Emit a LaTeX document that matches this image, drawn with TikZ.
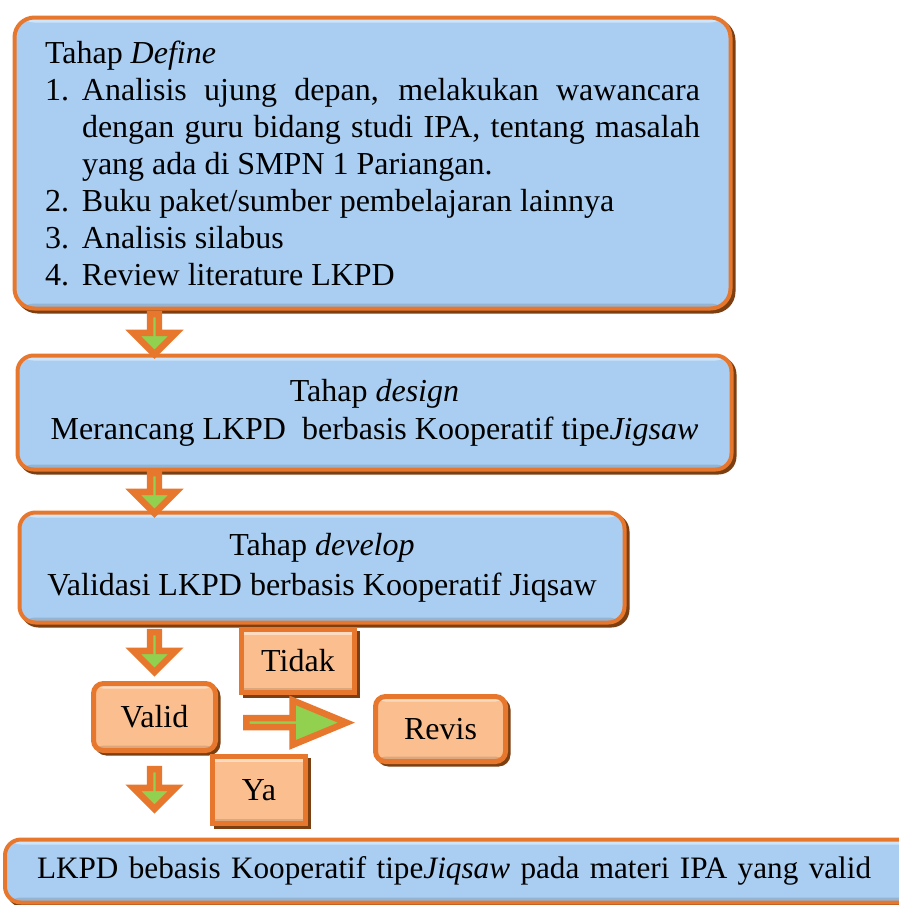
\documentclass[tikz,border=0pt]{standalone}
\usepackage{fontspec}
\setmainfont{Liberation Serif}
\usepackage{xcolor}
\usepackage{tikz}
\usetikzlibrary{calc,shapes.arrows,shadows}
\definecolor{boxblue}{HTML}{A9CEF2}
\definecolor{edgeorange}{HTML}{E8772E}
\definecolor{edgebrown}{HTML}{7B3F12}
\definecolor{boxpeach}{HTML}{FBBF8F}
\definecolor{arrowgreen}{HTML}{92D050}
\newcommand{\stepitem}[2]{\par\hangindent=18.5pt\hangafter=1\noindent\makebox[18.5pt][l]{#1}#2}

\begin{document}
\begin{tikzpicture}[
  x=0.5pt, y=-0.5pt,
  every node/.style={font=\fontsize{16}{18.5}\selectfont},
  bevel/.style={draw=edgeorange, line width=2pt,
    general shadow={fill=edgebrown, draw=edgebrown, line width=2pt,
      shadow xshift=1.5pt, shadow yshift=-1.5pt},
    path picture={
      \fill[white, opacity=0.45] (path picture bounding box.north west)
        rectangle ([yshift=-2.5pt]path picture bounding box.north east);
      \fill[black, opacity=0.12] (path picture bounding box.south west)
        rectangle ([yshift=2.5pt]path picture bounding box.south east);}},
  stage/.style={bevel, fill=boxblue, inner sep=0pt},
  answer/.style={bevel, line width=2.5pt, fill=boxpeach, inner sep=0pt},
  downarrow/.style={single arrow, rotate=-90, draw=edgeorange, fill=arrowgreen,
    line width=3.25pt, inner sep=0pt, minimum height=20pt, minimum width=21.25pt,
    single arrow head extend=6.25pt},
  sidearrow/.style={single arrow, draw=edgeorange, fill=arrowgreen,
    line width=3.25pt, inner sep=0pt, minimum height=50pt, minimum width=22.25pt,
    single arrow head extend=6.25pt, single arrow tip angle=45}
]
\useasboundingbox (0,0) rectangle (899,905);
\clip (0,0) rectangle (899,905);

\node[stage, rounded corners=10pt, minimum width=358pt, minimum height=145.5pt,
  text width=327.5pt, align=justify] (define) at (372.5,163)
  {Tahap \textit{Define}
   \stepitem{1.}{Analisis ujung depan, melakukan wawancara\linebreak
     dengan guru bidang studi IPA, tentang masalah\linebreak
     yang ada di SMPN 1 Pariangan.}
   \stepitem{2.}{Buku paket/sumber pembelajaran lainnya}
   \stepitem{3.}{Analisis silabus}
   \stepitem{4.}{Review literature LKPD}};
\node[stage, rounded corners=8pt, minimum width=357pt, minimum height=57pt,
  align=center, font=\fontsize{16}{19}\selectfont] (design) at (374.5,412.5)
  {Tahap \textit{design}\\Merancang LKPD~ berbasis Kooperatif tipe\textit{Jigsaw}};
\node[stage, rounded corners=8pt, minimum width=302.5pt, minimum height=55pt,
  align=center, font=\fontsize{16}{20}\selectfont] (develop) at (322,567.5)
  {Tahap \textit{develop}\\Validasi LKPD berbasis Kooperatif Jiqsaw};
\node[answer, rounded corners=5pt, minimum width=61pt, minimum height=33.5pt] (valid) at (154.5,717) {Valid};
\node[answer, minimum width=56.5pt, minimum height=31.5pt] (tidak) at (298,661) {Tidak};
\node[answer, rounded corners=5pt, minimum width=65pt, minimum height=32.5pt] (revis) at (440.5,729) {Revis};
\node[answer, minimum width=46.5pt, minimum height=33.5pt] (ya) at (259,790) {Ya};
\node[stage, rounded corners=8pt, minimum width=475pt, minimum height=31.5pt,
  text width=443pt, align=left, font=\fontsize{15.6}{18}\selectfont] (result) at (480,871)
  {LKPD bebasis Kooperatif tipe\textit{Jiqsaw} pada materi IPA yang valid};

\node[downarrow] (a1) at ($(define.south -| valid)!0.5!(design.north -| valid)$) {};
\node[downarrow] (a2) at ($(design.south -| valid)!0.5!(develop.north -| valid)$) {};
\node[downarrow] (a3) at ($(develop.south -| valid)!0.45!(valid.north)$) {};
\node[downarrow] (a4) at ($(valid.south)!0.4!(result.north -| valid)$) {};
\node[sidearrow] (a5) at ($(valid.east)!0.47!(revis.west)$) {};
\end{tikzpicture}
\end{document}
